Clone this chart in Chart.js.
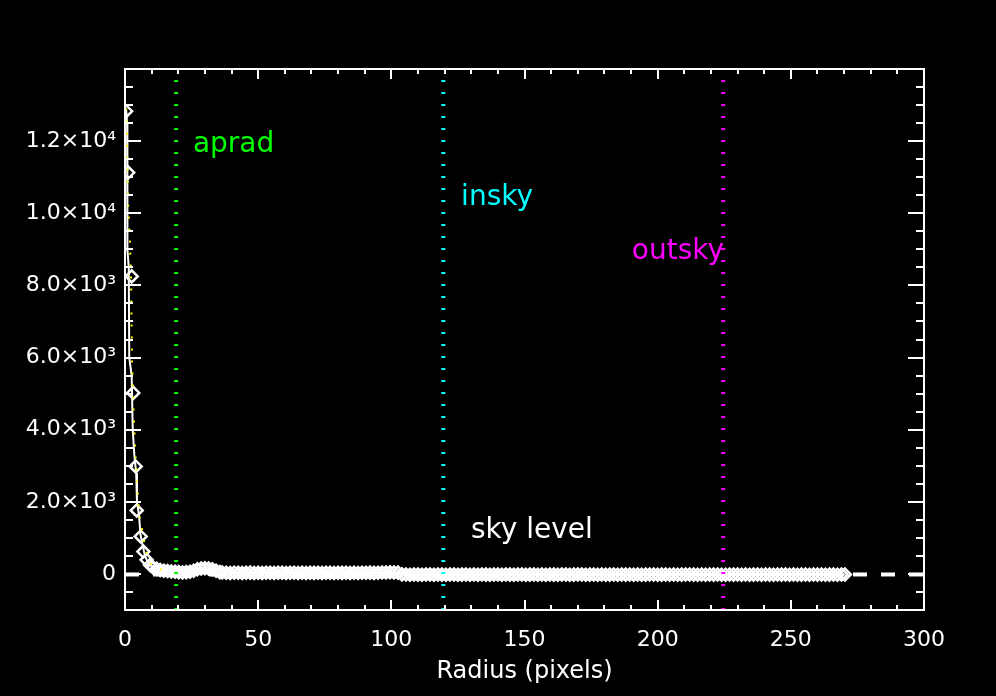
<!DOCTYPE html>
<html><head><meta charset="utf-8">
<script src="https://cdn.jsdelivr.net/npm/chart.js@4.4.1/dist/chart.umd.min.js"></script>
<style>
html,body{margin:0;padding:0;background:#000;overflow:hidden;width:996px;height:696px;}
#wrap{position:relative;width:996px;height:696px;overflow:hidden;background:#000;}
#c{position:absolute;left:-21px;top:0;}
</style></head><body><div id="wrap"><canvas id="c" width="1017" height="696"></canvas></div>
<script>
// ---- data ----
const pixRadius = [0.4, 1.2, 2.5, 3.1, 4.0, 4.4, 5.9, 6.9, 8.1, 9.4, 10.6, 11.9, 13.2, 14.6, 16.0, 17.4, 18.8, 20.2, 21.6, 23.0, 24.4, 25.8, 27.2, 28.6, 30.0, 31.4, 32.8, 34.2, 35.6,
  36.5, 38.0, 39.5, 41.0, 42.5, 44.0, 45.5, 47.0, 48.5, 50.0,
  51.5, 53.0, 54.5, 56.0, 57.5, 59.0, 60.5, 62.0, 63.5, 65.0,
  66.5, 68.0, 69.5, 71.0, 72.5, 74.0, 75.5, 77.0, 78.5, 80.0,
  81.5, 83.0, 84.5, 86.0, 87.5, 89.0, 90.5, 92.0, 93.5, 95.0,
  96.5, 98.0, 99.5, 101.0, 102.5, 104.0, 105.5, 107.0, 108.5, 110.0,
  111.5, 113.0, 114.5, 116.0, 117.5, 119.0, 120.5, 122.0, 123.5, 125.0,
  126.5, 128.0, 129.5, 131.0, 132.5, 134.0, 135.5, 137.0, 138.5, 140.0,
  141.5, 143.0, 144.5, 146.0, 147.5, 149.0, 150.5, 152.0, 153.5, 155.0,
  156.5, 158.0, 159.5, 161.0, 162.5, 164.0, 165.5, 167.0, 168.5, 170.0,
  171.5, 173.0, 174.5, 176.0, 177.5, 179.0, 180.5, 182.0, 183.5, 185.0,
  186.5, 188.0, 189.5, 191.0, 192.5, 194.0, 195.5, 197.0, 198.5, 200.0,
  201.5, 203.0, 204.5, 206.0, 207.5, 209.0, 210.5, 212.0, 213.5, 215.0,
  216.5, 218.0, 219.5, 221.0, 222.5, 224.0, 225.5, 227.0, 228.5, 230.0,
  231.5, 233.0, 234.5, 236.0, 237.5, 239.0, 240.5, 242.0, 243.5, 245.0,
  246.5, 248.0, 249.5, 251.0, 252.5, 254.0, 255.5, 257.0, 258.5, 260.0,
  261.5, 263.0, 264.5, 266.0, 267.5, 269.0, 270.3];
const pixCounts = [12830, 11130, 8250, 5020, 2980, 1760, 1040, 620, 390, 250, 170, 140, 110, 90, 80, 70, 60, 50, 40, 50, 60, 90, 130, 150, 160, 150, 130, 90, 50,
  38, 30, 26, 34, 30, 24, 32, 36, 28, 30,
  26, 34, 30, 28, 35, 30, 26, 32, 34, 28,
  30, 25, 33, 29, 31, 27, 35, 30, 26, 32,
  29, 34, 28, 31, 27, 33, 30, 36, 29, 31,
  38, 42, 45, 40, 36, -12, -16, -20, -15, -19,
  -22, -17, -18, -20, -14, -19, -21, -17, -16, -20,
  -19, -15, -22, -18, -20, -16, -19, -21, -17, -18,
  -20, -16, -19, -22, -18, -15, -20, -19, -17, -21,
  -18, -20, -16, -19, -21, -18, -17, -20, -19, -15,
  -18, -21, -19, -17, -20, -18, -22, -19, -16, -20,
  -18, -19, -17, -21, -18, -20, -19, -16, -18, -20,
  -19, -17, -21, -18, -20, -19, -18, -15, -19, -21,
  -17, -20, -18, -19, -16, -20, -21, -18, -19, -17,
  -20, -18, -22, -19, -17, -20, -18, -19, -21, -16,
  -19, -18, -20, -17, -21, -19, -18, -20, -16, -19,
  -18, -20, -19, -17, -21, -18, -15];
const meanRadius = [0.4, 0.8, 0.9, 1.4, 1.6, 2.5, 2.9, 3.5, 4.2, 4.5, 5.3, 5.8, 6.6, 7.5, 8.5, 10.0, 12.0, 15.0, 20.0, 28.0, 32.0, 38.0, 100.0, 105.0, 270.0];
const meanCounts = [12900, 12500, 9000, 8500, 6000, 5500, 4000, 3300, 2800, 2000, 1600, 1100, 800, 500, 340, 220, 150, 100, 50, 140, 130, 30, 30, -18, -18];
const fitRadius = [0.4, 0.7, 1.2, 1.8, 2.3, 2.6, 3.0, 3.4, 4.0, 4.4, 5.0, 5.5, 6.0, 7.0, 8.7, 10.0, 12.0, 14.0];
const fitCounts = [12900, 12450, 10200, 9300, 8150, 6050, 5000, 4150, 3200, 2670, 1970, 1580, 1400, 970, 390, 250, 160, 110];
const markerNames = ['aprad', 'insky', 'outsky'];
const markerRadius = [19.2, 119.5, 224.6];
const skyLevel = -15;
const xTickValues = [0, 50, 100, 150, 200, 250, 300];
const xTickLabels = ['0', '50', '100', '150', '200', '250', '300'];
const yTickValues = [0, 2000, 4000, 6000, 8000, 10000, 12000];
const yTickLabels = ['0', '2.0×10³', '4.0×10³', '6.0×10³', '8.0×10³', '1.0×10⁴', '1.2×10⁴'];

// ---- styling ----
const F = "'DejaVu Sans', 'Liberation Sans', sans-serif";
const markerColors = ['#00ff00', '#00ffff', '#ff00ff'];
const labelAnchors = [ {x: 25.5, y: 11700}, {x: 126.2, y: 10220}, {x: 190.3, y: 8720} ];
const skyLabelAnchor = {x: 129.9, y: 990};
const Y_MIN = -1000, Y_MAX = 14000;

const pts = (xs, ys) => xs.map((v, i) => ({x: v, y: ys[i]}));

const datasets = [];
markerRadius.forEach((r, i) => datasets.push({
  data: [{x: r, y: Y_MIN}, {x: r, y: Y_MAX}], showLine: true, pointRadius: 0,
  borderColor: markerColors[i], borderWidth: 4, borderDash: [2, 10], order: 0
}));
datasets.push({ data: pts(fitRadius, fitCounts), showLine: true, pointRadius: 0,
  borderColor: '#ffff00', borderWidth: 2, borderDash: [2, 10], order: 1 });
datasets.push({ data: pts(pixRadius, pixCounts), showLine: false, pointStyle: 'rectRot',
  pointRadius: 6, pointBorderWidth: 2.5, pointBorderColor: '#ffffff', pointBackgroundColor: 'rgba(0,0,0,0)', order: 2 });
datasets.push({ data: pts(meanRadius, meanCounts), showLine: true, pointRadius: 0,
  borderColor: '#ffffff', borderWidth: 2, order: 3 });
datasets.push({ data: [{x: 0, y: skyLevel}, {x: 300, y: skyLevel}], showLine: true, pointRadius: 0,
  borderColor: '#ffffff', borderWidth: 4, borderDash: [14, 14], order: 4 });

const framePlugin = {
  id: 'frame',
  afterDatasetsDraw(chart) {
    const {ctx, chartArea: a, scales: {x, y}} = chart;
    ctx.save();
    ctx.strokeStyle = '#ffffff';
    ctx.lineWidth = 2;
    ctx.beginPath();
    for (let v = 0; v <= 300; v += 10) {
      const px = Math.round(x.getPixelForValue(v));
      const len = v % 50 === 0 ? 10 : 5;
      ctx.moveTo(px, a.bottom); ctx.lineTo(px, a.bottom - len);
      ctx.moveTo(px, a.top); ctx.lineTo(px, a.top + len);
    }
    for (let v = Y_MIN; v <= Y_MAX; v += 500) {
      const py = Math.round(y.getPixelForValue(v));
      const len = v % 2000 === 0 ? 16 : 8;
      ctx.moveTo(a.left, py); ctx.lineTo(a.left + len, py);
      ctx.moveTo(a.right, py); ctx.lineTo(a.right - len, py);
    }
    ctx.stroke();
    ctx.strokeRect(a.left, a.top, a.right - a.left, a.bottom - a.top);
    ctx.font = "28px " + F;
    ctx.textBaseline = 'alphabetic';
    ctx.textAlign = 'left';
    markerNames.forEach((n, i) => {
      ctx.fillStyle = markerColors[i];
      ctx.fillText(n, x.getPixelForValue(labelAnchors[i].x), y.getPixelForValue(labelAnchors[i].y));
    });
    ctx.fillStyle = '#ffffff';
    ctx.fillText('sky level', x.getPixelForValue(skyLabelAnchor.x), y.getPixelForValue(skyLabelAnchor.y));
    ctx.restore();
  }
};

new Chart(document.getElementById('c'), {
  type: 'scatter',
  data: { datasets },
  options: {
    responsive: false, animation: false, events: [],
    layout: { padding: { top: 69, right: 72, bottom: 0, left: 0 } },
    plugins: { legend: { display: false }, tooltip: { enabled: false } },
    scales: {
      x: {
        type: 'linear', min: 0, max: 300,
        afterBuildTicks: s => { s.ticks = xTickValues.map(v => ({value: v})); },
        afterFit: s => { s.height = 86; },
        grid: { display: false, drawTicks: false }, border: { display: false },
        ticks: { color: '#ffffff', font: { family: F, size: 22 }, padding: 17, maxRotation: 0, autoSkip: false,
          callback: v => xTickLabels[xTickValues.indexOf(v)] },
        title: { display: true, text: 'Radius (pixels)', color: '#ffffff', font: { family: F, size: 24 }, padding: { top: 0, bottom: 10 } }
      },
      y: {
        type: 'linear', min: Y_MIN, max: Y_MAX,
        afterBuildTicks: s => { s.ticks = yTickValues.map(v => ({value: v})); },
        afterFit: s => { s.width = 146; },
        grid: { display: false, drawTicks: false }, border: { display: false },
        ticks: { color: '#ffffff', font: { family: F, size: 22 }, padding: 9, autoSkip: false,
          callback: v => yTickLabels[yTickValues.indexOf(v)] },
        title: { display: true, text: 'Counts', color: '#ffffff', font: { family: F, size: 24 }, padding: { top: 0, bottom: 0 } }
      }
    }
  },
  plugins: [framePlugin]
});
</script></body></html>
